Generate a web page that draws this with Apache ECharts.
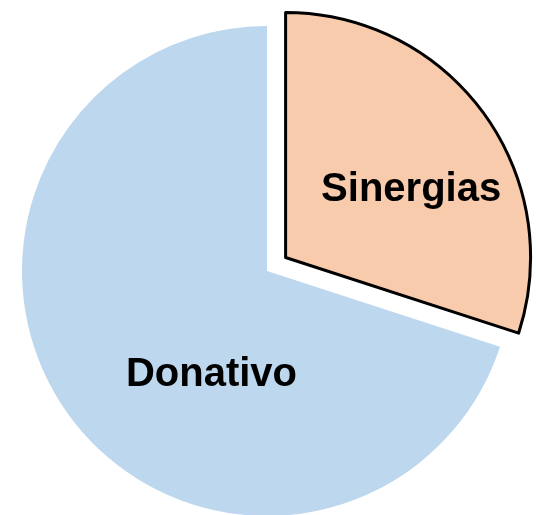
<!DOCTYPE html>
<html><head><meta charset="utf-8">
<script src="https://cdn.jsdelivr.net/npm/echarts@6/dist/echarts.min.js"></script>
<style>html,body{margin:0;padding:0;background:#fff}#c{width:538px;height:515px}</style>
</head><body><div id="c"></div>
<script>
var categories = ["Sinergias", "Donativo"];
var values = [30, 70];
var colors = ["#F8CBAD", "#BDD7EE"];
var labelOffsets = [[24, 6], [46, 30]];

var chart = echarts.init(document.getElementById('c'), null, {renderer: 'canvas'});
var data = categories.map(function (n, i) {
  return {
    name: n,
    value: values[i],
    selected: i === 0,
    itemStyle: i === 0 ? {color: colors[i], borderColor: '#000', borderWidth: 3} : {color: colors[i], borderWidth: 0},
    label: {offset: labelOffsets[i]},
    select: {label: {offset: labelOffsets[i]}, itemStyle: i === 0 ? {color: colors[i], borderColor: '#000', borderWidth: 3} : {color: colors[i]}}
  };
});
chart.setOption({
  animation: false,
  backgroundColor: '#fff',
  series: [{
    type: 'pie',
    center: [267, 271],
    radius: [0, 245],
    startAngle: 90,
    clockwise: true,
    selectedMode: 'single',
    selectedOffset: 23,
    avoidLabelOverlap: false,
    label: {
      show: true,
      position: 'inside',
      formatter: '{b}',
      color: '#000',
      fontFamily: 'Liberation Sans',
      fontWeight: 'bold',
      fontSize: 40
    },
    labelLine: {show: false},
    emphasis: {disabled: true},
    data: data
  }]
});
</script></body></html>
